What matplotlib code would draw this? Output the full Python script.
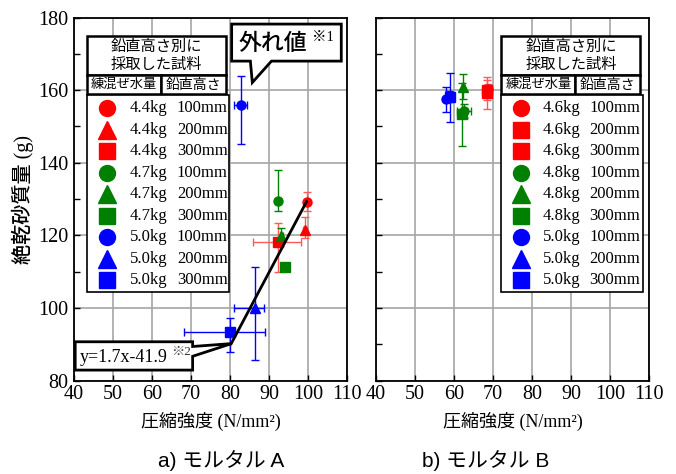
import matplotlib
matplotlib.use("Agg")
import matplotlib.pyplot as plt
from matplotlib.patches import Rectangle, Polygon

plt.rcParams['font.family'] = ['Liberation Serif', 'Noto Sans CJK JP']

# mortar A
a_kg = ['4.4kg'] * 3 + ['4.7kg'] * 3 + ['5.0kg'] * 3
a_h = ['100mm', '200mm', '300mm'] * 3
a_colors = ['red'] * 3 + ['green'] * 3 + ['blue'] * 3
a_markers = ['o', '^', 's'] * 3
a_x = [99.7, 99.2, 92.2, 92.2, 93.1, 94.1, 82.7, 86.3, 80.0]
a_y = [129.3, 121.6, 118.1, 129.6, 119.7, 111.3, 156.0, 100.1, 93.4]
a_xlo = [0.4, 0.4, 6.4, 0.4, 0.4, 0.4, 1.7, 5.2, 11.9]
a_xhi = [0.4, 0.4, 6.0, 0.4, 0.4, 0.4, 1.7, 2.5, 9.0]
a_ylo = [2.6, 2.2, 8.2, 3.0, 1.5, 1.0, 10.8, 14.5, 5.6]
a_yhi = [2.6, 3.4, 5.4, 8.4, 2.3, 1.0, 7.9, 11.2, 3.9]

# mortar B
b_kg = ['4.6kg'] * 3 + ['4.8kg'] * 3 + ['5.0kg'] * 3
b_h = ['100mm', '200mm', '300mm'] * 3
b_colors = ['red'] * 3 + ['green'] * 3 + ['blue'] * 3
b_markers = ['o', 's', 's', 'o', '^', 's', 'o', '^', 's']
b_x = [68.8, 68.5, 68.6, 62.7, 62.3, 62.0, 58.0, 58.8, 59.1]
b_y = [160.2, 159.2, 160.0, 154.3, 161.0, 153.3, 157.5, 158.3, 158.0]
b_xerr = [0.3, 0.3, 0.3, 1.8, 0.3, 0.3, 0.5, 0.5, 0.5]
b_yerr = [1.5, 4.4, 2.8, 2.0, 3.4, 8.8, 3.5, 1.5, 6.8]

# regression line drawn in panel a
fit_x = [80.3, 99.6]
fit_y = [90.2, 129.3]

err_colors = {'red': '#ff5a5a', 'green': 'green', 'blue': 'blue'}

fig = plt.figure(figsize=(6.76, 4.74), dpi=100)
ax1 = fig.add_axes([0.1095, 0.197, 0.404, 0.766])
ax2 = fig.add_axes([0.556, 0.197, 0.404, 0.766])


def style_axes(ax, show_ylabels):
    ax.set_xlim(40, 110)
    ax.set_ylim(80, 180)
    ax.set_xticks(range(40, 111, 10))
    ax.set_yticks(range(80, 181, 20))
    ax.set_yticks(range(90, 180, 20), minor=True)
    ax.grid(True, which='major', color='#a6a6a6', lw=1.2, zorder=0)
    ax.set_axisbelow(True)
    ax.tick_params(direction='in', labelsize=14.5, length=4, width=1, top=False, right=False,
                   pad=3)
    ax.tick_params(axis='y', pad=4)
    ax.tick_params(which='minor', direction='in', length=4, width=1)
    for s in ax.spines.values():
        s.set_linewidth(1.3)
    if not show_ylabels:
        ax.set_yticklabels([])
    ax.set_xlabel('圧縮強度 (N/mm²)', fontsize=13, labelpad=6)


def draw_points(ax, xs, ys, xlo, xhi, ylo, yhi, colors, markers):
    for i in range(len(xs)):
        ms = 7.5 if markers[i] == '^' else 6.5
        ax.errorbar(xs[i], ys[i], xerr=[[xlo[i]], [xhi[i]]], yerr=[[ylo[i]], [yhi[i]]],
                    fmt=markers[i], color=colors[i], ecolor=err_colors[colors[i]],
                    ms=ms, elinewidth=1, capsize=3, capthick=1, zorder=3)


def draw_legend(ax, x0, x1, xdiv, kg, hs, colors, markers, mx, tx1, tx2):
    tr = ax.transAxes
    # header table
    ax.add_patch(Rectangle((x0, 0.842), x1 - x0, 0.107, transform=tr, fc='white',
                           ec='black', lw=1.8, zorder=5, clip_on=False))
    ax.add_patch(Rectangle((x0, 0.790), xdiv - x0, 0.052, transform=tr, fc='white',
                           ec='black', lw=1.8, zorder=5, clip_on=False))
    ax.add_patch(Rectangle((xdiv, 0.790), x1 - xdiv, 0.052, transform=tr, fc='white',
                           ec='black', lw=1.8, zorder=5, clip_on=False))
    ax.text((x0 + x1) / 2, 0.895, '鉛直高さ別に\n採取した試料', transform=tr, ha='center',
            va='center', fontsize=11, family='Noto Sans CJK JP', linespacing=1.05, zorder=6)
    ax.text((x0 + xdiv) / 2, 0.815, '練混ぜ水量', transform=tr, ha='center', va='center',
            fontsize=9.5, family='Noto Sans CJK JP', zorder=6)
    ax.text((xdiv + x1) / 2, 0.815, '鉛直高さ', transform=tr, ha='center', va='center',
            fontsize=10, family='Noto Sans CJK JP', zorder=6)
    # entries
    ax.add_patch(Rectangle((x0, 0.243), x1 - x0 + 0.008, 0.544, transform=tr, fc='white',
                           ec='black', lw=1.2, zorder=5, clip_on=False))
    for i in range(len(kg)):
        yy = 0.7504 - 0.0592 * i
        ms = 12.5 if markers[i] == '^' else 11.5
        ax.plot([mx], [yy], marker=markers[i], color=colors[i], ms=ms, ls='none',
                transform=tr, zorder=6, clip_on=False)
        ax.text(tx1, yy, kg[i], transform=tr, ha='left', va='center', fontsize=12, zorder=6)
        ax.text(tx2, yy, hs[i], transform=tr, ha='left', va='center', fontsize=12, zorder=6)


style_axes(ax1, True)
style_axes(ax2, False)
ax1.set_ylabel('絶乾砂質量 (g)', fontsize=14.5, labelpad=3, fontweight='medium')

draw_points(ax1, a_x, a_y, a_xlo, a_xhi, a_ylo, a_yhi, a_colors, a_markers)
draw_points(ax2, b_x, b_y, b_xerr, b_xerr, b_yerr, b_yerr, b_colors, b_markers)

ax1.plot(fit_x, fit_y, color='black', lw=2, zorder=4)

draw_legend(ax1, 0.0465, 0.558, 0.317, a_kg, a_h, a_colors, a_markers, 0.1225, 0.203, 0.377)
draw_legend(ax2, 0.4598, 0.9685, 0.7307, b_kg, b_h, b_colors, b_markers, 0.533, 0.61, 0.781)

# callout: outlier
ax1.add_patch(Polygon([(80.4, 178.2), (108.5, 178.2), (108.5, 168.0), (90.6, 168.0),
                       (85.7, 162.1), (85.2, 168.0), (80.4, 168.0)],
                      closed=True, fc='white', ec='black', lw=2, zorder=7, clip_on=False))
ax1.text(91.0, 172.8, '外れ値', ha='center', va='center', fontsize=16.5,
         family='Noto Sans CJK JP', fontweight='medium', zorder=8)
ax1.text(101.0, 174.6, '※1', ha='left', va='center', fontsize=10.5,
         family=['Liberation Serif', 'Noto Sans CJK JP'], zorder=8)

# callout: regression formula
ax1.add_patch(Polygon([(40.3, 90.7), (70.4, 90.7), (70.4, 89.4), (80.4, 90.2),
                       (70.4, 86.7), (70.4, 82.9), (40.3, 82.9)],
                      closed=True, fc='white', ec='black', lw=2, zorder=7, clip_on=False))
ax1.text(41.6, 86.4, 'y=1.7x-41.9', ha='left', va='center', fontsize=13, zorder=8)
ax1.text(65.0, 87.9, '※2', ha='left', va='center', fontsize=9.5,
         family=['Liberation Serif', 'Noto Sans CJK JP'], color='#333333', zorder=8)

fig.text(0.327, 0.028, 'a) モルタル A', ha='center', va='center', fontsize=15,
         family=['Liberation Sans', 'Noto Sans CJK JP'])
fig.text(0.719, 0.028, 'b) モルタル B', ha='center', va='center', fontsize=15,
         family=['Liberation Sans', 'Noto Sans CJK JP'])

fig.savefig('out.png', dpi=100)
